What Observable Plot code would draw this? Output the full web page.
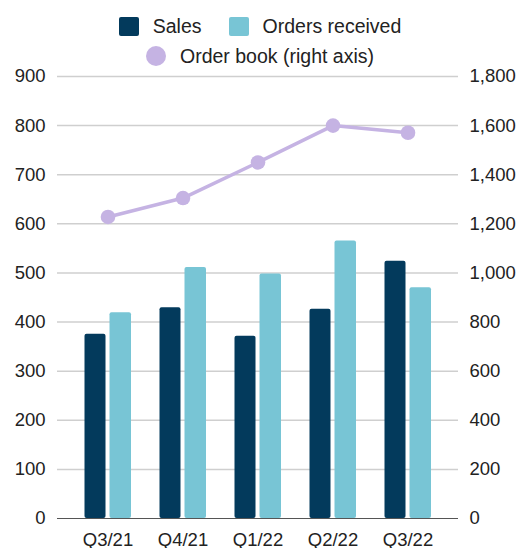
<!DOCTYPE html>
<html>
<head>
<meta charset="utf-8">
<script src="https://cdn.jsdelivr.net/npm/d3@7"></script>
<script src="https://cdn.jsdelivr.net/npm/@observablehq/plot@0.6"></script>
<style>
  html, body { margin: 0; padding: 0; background: #fff; }
  body { width: 520px; font-family: "Liberation Sans", Arial, sans-serif; }
  #legend { height: 66px; position: relative; font-size: 19.5px; color: #222; }
  .row { position: absolute; left: 0; width: 520px; display: flex; justify-content: center; align-items: center; }
  .item { display: flex; align-items: center; }
  .sw { display: inline-block; width: 20px; height: 19px; border-radius: 2px; margin-right: 14px; }
  .dot { display: inline-block; width: 20px; height: 20px; border-radius: 50%; margin-right: 14px; }
  #chart svg { overflow: visible; display: block; }
</style>
</head>
<body>
<div id="legend"></div>
<div id="chart"></div>
<script>
const quarters = ["Q3/21", "Q4/21", "Q1/22", "Q2/22", "Q3/22"];
const sales = [375, 429, 371, 426, 524];
const ordersReceived = [419, 511, 498, 565, 470];
const orderBook = [1228, 1305, 1450, 1600, 1571];
const leftTicks = [0, 100, 200, 300, 400, 500, 600, 700, 800, 900];
const seriesNames = ["Sales", "Orders received", "Order book (right axis)"];
const colors = ["#033a5c", "#78c5d5", "#c5b3e3"];

// legend
const legend = document.getElementById("legend");
legend.innerHTML = `
  <div class="row" style="top:16px;height:20px">
    <div class="item"><span class="sw" style="background:${colors[0]}"></span>${seriesNames[0]}</div>
    <div class="item" style="margin-left:27px"><span class="sw" style="background:${colors[1]}"></span>${seriesNames[1]}</div>
  </div>
  <div class="row" style="top:46px;height:20px">
    <div class="item"><span class="dot" style="background:${colors[2]}"></span>${seriesNames[2]}</div>
  </div>`;

const bars = quarters.map((q, i) => ({q, sales: sales[i], orders: ordersReceived[i], book: orderBook[i]}));

const plot = Plot.plot({
  width: 520,
  height: 482,
  marginTop: 10,
  marginBottom: 30,
  marginLeft: 57,
  marginRight: 62,
  style: {fontFamily: "'Liberation Sans', Arial, sans-serif", fontSize: "18.5px", color: "#222", background: "#fff", overflow: "visible"},
  x: {domain: quarters, padding: 0, insetLeft: 12.5, insetRight: 12.5, label: null, axis: null},
  y: {domain: [0, 900], label: null, axis: null},
  marks: [
    Plot.ruleY(leftTicks.filter(d => d > 0), {stroke: "#cfcfcf", strokeWidth: 1.5}),
    Plot.barY(bars, {x: "q", y: "sales", fill: colors[0], insetLeft: 14.5, insetRight: 39.5, rx: 2}),
    Plot.barY(bars, {x: "q", y: "orders", fill: colors[1], insetLeft: 39.5, insetRight: 14, rx: 2}),
    Plot.ruleY([0], {stroke: "#555", strokeWidth: 1.2}),
    Plot.line(bars, {x: "q", y: d => d.book / 2, stroke: colors[2], strokeWidth: 3.5}),
    Plot.dot(bars, {x: "q", y: d => d.book / 2, r: 7.3, fill: colors[2]}),
    Plot.axisY(leftTicks, {anchor: "left", tickSize: 0, tickPadding: 12, label: null, fill: "#222"}),
    Plot.axisY(leftTicks, {anchor: "right", tickSize: 0, tickPadding: 11, label: null, fill: "#222", tickFormat: d => (d * 2).toLocaleString("en-US")}),
    Plot.axisX({tickSize: 0, tickPadding: 14, label: null, fill: "#222"})
  ]
});
document.getElementById("chart").appendChild(plot);
</script>
</body>
</html>
